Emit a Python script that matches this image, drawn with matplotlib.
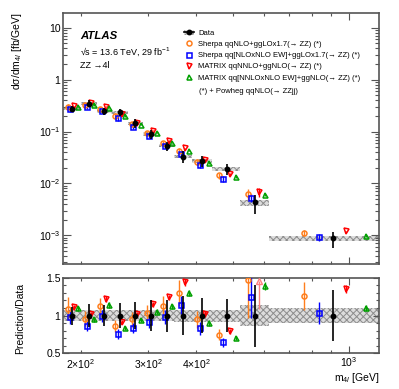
import numpy as np
import matplotlib.pyplot as plt
from matplotlib.ticker import FixedLocator, NullFormatter
from matplotlib.patches import Patch
from matplotlib.lines import Line2D

plt.rcParams['font.family'] = ['Liberation Sans', 'DejaVu Sans']
plt.rcParams['mathtext.fontset'] = 'custom'
plt.rcParams['mathtext.rm'] = 'Liberation Sans'
plt.rcParams['mathtext.it'] = 'Liberation Sans:italic'
plt.rcParams['mathtext.bf'] = 'Liberation Sans:bold'
plt.rcParams['hatch.linewidth'] = 0.7

# m4l bins [GeV]
edges = [180, 200, 220, 240, 265, 290, 320, 350, 390, 440, 520, 620, 1200]

# measured cross-section [fb/GeV], relative stat error, relative syst band
data = [0.275, 0.345, 0.245, 0.235, 0.145, 0.090, 0.053, 0.033, 0.0275, 0.019, 0.0043, 0.00088]
data_err = [0.12, 0.15, 0.14, 0.16, 0.18, 0.20, 0.21, 0.26, 0.23, 0.22, 0.41, 0.34]
band = [0.07, 0.07, 0.07, 0.07, 0.07, 0.07, 0.07, 0.08, 0.08, 0.08, 0.14, 0.10]

# prediction / data and relative prediction errors
r_sherpa = [1.09, 0.96, 1.125, 0.86, 0.95, 1.04, 1.13, 1.30, 0.95, 0.75, 1.47, 1.26]
r_sherpa_ew = [0.985, 0.86, 1.0, 0.76, 0.84, 0.91, 0.98, 1.14, 0.83, 0.65, 1.245, 1.04]
r_matrix = [1.11, 1.02, 1.22, 0.92, 1.02, 1.15, 1.24, 1.44, 1.02, 0.795, 1.56, 1.35]
r_matrix_ew = [1.10, 0.95, 1.14, 0.84, 0.94, 1.05, 1.125, 1.30, 0.90, 0.70, 1.39, 1.10]

e_sherpa = [0.14, 0.10, 0.10, 0.09, 0.10, 0.10, 0.11, 0.13, 0.12, 0.10, 0.34, 0.15]
e_sherpa_ew = [0.10, 0.08, 0.08, 0.09, 0.08, 0.08, 0.09, 0.10, 0.10, 0.09, 0.22, 0.14]
e_matrix = [0.03, 0.03, 0.03, 0.03, 0.03, 0.03, 0.03, 0.03, 0.04, 0.04, 0.30, 0.04]
e_matrix_ew = [0.03, 0.03, 0.03, 0.03, 0.03, 0.03, 0.03, 0.03, 0.04, 0.04, 0.04, 0.04]

labels = ["Sherpa qqNLO+ggLOx1.7(\u2192 ZZ) (*)",
          "Sherpa qq[NLOxNLO EW]+ggLOx1.7(\u2192 ZZ) (*)",
          "MATRIX qqNNLO+ggNLO(\u2192 ZZ) (*)",
          "MATRIX qq[NNLOxNLO EW]+ggNLO(\u2192 ZZ) (*)"]
colors = ['#ff7f1e', '#0000ff', '#ff0000', '#00a000']
markers = ['o', 's', 'v', '^']
fracs = [0.25, 0.375, 0.625, 0.85]
ratios = [r_sherpa, r_sherpa_ew, r_matrix, r_matrix_ew]
errs = [e_sherpa, e_sherpa_ew, e_matrix, e_matrix_ew]

edges = np.array(edges, float)
width = np.diff(edges)
data = np.array(data)
data_err = np.array(data_err)
band = np.array(band)
xdata = edges[:-1] + 0.5 * width

frame = '#555555'
fig = plt.figure(figsize=(3.99, 3.89), dpi=100)
ax = fig.add_axes([0.1587, 0.3213, 0.7912, 0.6445])
rax = fig.add_axes([0.1587, 0.0913, 0.7912, 0.1948])

hatch_kw = dict(facecolor='#dcdcdc', edgecolor='#8c8c8c', hatch='xxxxx', linewidth=0, align='edge')

# main panel
ax.bar(edges[:-1], 2 * band * data, width=width, bottom=data * (1 - band), zorder=1, **hatch_kw)
handles = []
for r, e, c, m, f, lab in zip(ratios, errs, colors, markers, fracs, labels):
    y = data * np.array(r)
    x = edges[:-1] + f * width
    ax.errorbar(x, y, yerr=y * np.array(e) / np.array(r), fmt=m, mfc='none', mec=c, ecolor=c,
                ms=3.6, mew=1.1, elinewidth=1.0, capsize=0, zorder=3)
    handles.append(Line2D([], [], marker=m, ls='none', mfc='none', mec=c, ms=3.6, mew=1.1))
ax.errorbar(xdata, data, yerr=data * data_err, fmt='o', color='black', ms=3.2,
            elinewidth=1.2, capsize=0, zorder=4)

ax.set_xscale('log')
ax.set_yscale('log')
ax.set_xlim(180, 1200)
ax.set_ylim(2.8e-4, 19)

data_handle = (Patch(facecolor='#dcdcdc', edgecolor='#8c8c8c', hatch='xxxxx', linewidth=0),
               Line2D([], [], marker='o', color='black', ms=3.2, lw=1.2))
leg = ax.legend([data_handle] + handles, ['Data'] + labels, loc='upper left',
                bbox_to_anchor=(0.372, 0.947), frameon=False, fontsize=5.5,
                handlelength=1.3, handletextpad=0.6, labelspacing=0.5, borderaxespad=0)
ax.text(0.43, 0.69, "(*) + Powheg qqNLO(\u2192 ZZjj)", transform=ax.transAxes,
        fontsize=5.5, va='center')

ax.text(0.053, 0.909, 'ATLAS', transform=ax.transAxes, fontsize=8.2,
        weight='bold', style='italic', va='center')
ax.text(0.053, 0.846, '\u221as = 13.6 TeV, 29 fb$^{-1}$', transform=ax.transAxes,
        fontsize=6.5, va='center')
ax.text(0.053, 0.79, 'ZZ \u21924l', transform=ax.transAxes, fontsize=6.5, va='center')

# ratio panel
rax.bar(edges[:-1], 2 * band, width=width, bottom=1 - band, zorder=1, **hatch_kw)
rax.errorbar(xdata, np.ones_like(data), yerr=data_err, fmt='o', color='black', ms=3.2,
             elinewidth=1.2, capsize=0, zorder=4)
for r, e, c, m, f in zip(ratios, errs, colors, markers, fracs):
    r = np.array(r)
    x = edges[:-1] + f * width
    ok = r <= 1.5
    rax.errorbar(x[ok], r[ok], yerr=r[ok] * np.array(e)[ok], fmt=m, mfc='none', mec=c,
                 ecolor=c, ms=3.6, mew=1.1, elinewidth=1.0, capsize=0, zorder=3)
    if (~ok).any():
        rax.vlines(x[~ok], (r - r * np.array(e))[~ok], 1.45, color='#ff8080', lw=1.0, zorder=3)
        rax.plot(x[~ok], np.full((~ok).sum(), 1.45), '^', mfc='none', mec='#ff8080',
                 ms=4, mew=1.0, zorder=3)
rax.set_xscale('log')
rax.set_xlim(180, 1200)
rax.set_ylim(0.5, 1.5)

for a in (ax, rax):
    for s in a.spines.values():
        s.set_color(frame)
        s.set_linewidth(1.2)
    a.tick_params(which='both', direction='in', top=True, right=True, color=frame,
                  labelsize=7.5, width=0.8)
    a.xaxis.set_major_locator(FixedLocator([1000]))
    a.xaxis.set_minor_locator(FixedLocator([200, 300, 400, 500, 600, 700, 800, 900]))

ax.tick_params(axis='y', which='major', length=5.5, pad=2)
ax.tick_params(axis='y', which='minor', length=3)
ax.tick_params(axis='x', which='major', length=5)
ax.tick_params(axis='x', which='minor', length=2.5)
ax.xaxis.set_major_formatter(NullFormatter())
ax.xaxis.set_minor_formatter(NullFormatter())
ax.set_yticks([1e-3, 1e-2, 1e-1, 1, 10],
              ['$10^{-3}$', '$10^{-2}$', '$10^{-1}$', '1', '10'])

rax.set_xticks([1000], ['$10^{3}$'])
rax.set_xticks([200, 300, 400, 500, 600, 700, 800, 900],
               ['$2{\\times}10^{2}$', '$3{\\times}10^{2}$', '$4{\\times}10^{2}$', '', '', '', '', ''],
               minor=True)
rax.tick_params(axis='x', which='major', length=5, pad=1.5)
rax.tick_params(axis='x', which='minor', length=2.5, pad=3)
rax.set_yticks([0.5, 1, 1.5], ['0.5', '1', '1.5'])
rax.yaxis.set_minor_locator(FixedLocator(np.arange(0.6, 1.5, 0.1)))
rax.tick_params(axis='y', which='major', length=4, pad=2)
rax.tick_params(axis='y', which='minor', length=2)

fig.text(17 / 399, 1 - 12 / 389, 'd\u03c3/dm$_{4l}$ [fb/GeV]', rotation=90,
         ha='center', va='top', fontsize=7.5)
fig.text(20 / 399, 1 - 318 / 389, 'Prediction/Data', rotation=90,
         ha='center', va='center', fontsize=7.5)
fig.text(379 / 399, 1 - 378 / 389, 'm$_{4l}$ [GeV]', ha='right', va='center', fontsize=7.5)

fig.savefig('out.png', dpi=100)
